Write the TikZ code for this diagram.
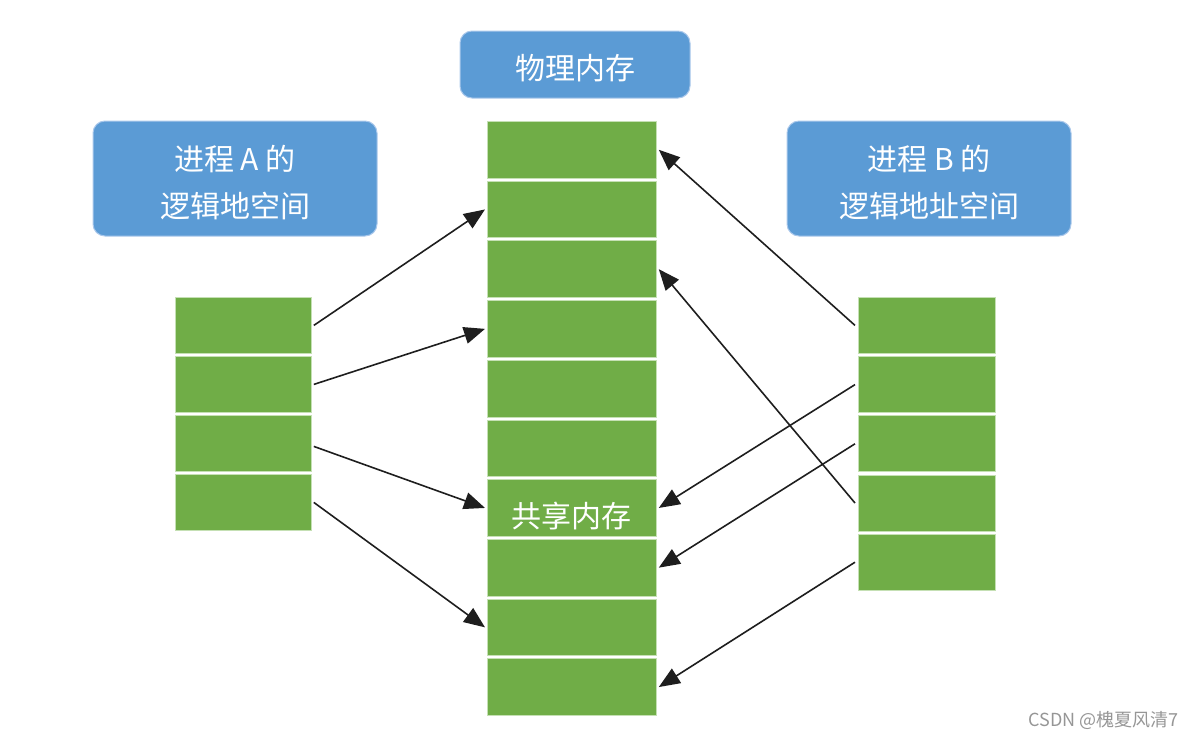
\documentclass[tikz,border=0pt]{standalone}
\usepackage{fontspec}
\newfontfamily\cjk{Noto Sans CJK SC}
\usetikzlibrary{arrows.meta}
\definecolor{boxblue}{RGB}{91,155,213}
\definecolor{cellgreen}{RGB}{112,173,71}
\definecolor{celledge}{RGB}{197,224,180}
\definecolor{boxedge}{RGB}{170,200,235}
\definecolor{arrowcol}{RGB}{30,30,30}
\definecolor{wmgrey}{RGB}{150,150,150}
\begin{document}
\begin{tikzpicture}[x=1pt,y=-1pt,
  titlebox/.style={fill=boxblue,draw=boxedge,line width=1pt,rounded corners=12pt,inner sep=0pt},
  titletext/.style={text=white,font=\cjk\fontsize{30}{47}\selectfont,align=center,inner sep=0pt},
  cell/.style={fill=cellgreen,draw=celledge,line width=0.8pt,inner sep=0pt,anchor=north west},
  celltext/.style={text=white,font=\cjk\fontsize{30}{36}\selectfont},
  arr/.style={draw=arrowcol,line width=1.6pt,-{Triangle[length=21pt,width=17pt]}},
  wmark/.style={font=\cjk\fontsize{18}{20}\selectfont,text=wmgrey,anchor=east}]
\useasboundingbox (0,0) rectangle (1197,740);

% title boxes
\node[titlebox,minimum width=230pt,minimum height=67pt] (phys) at (575,64.5) {};
\node[titletext] (physt) at ([yshift=-4pt]phys.center) {物理内存};
\node[titlebox,minimum width=284pt,minimum height=115pt] (pa) at (235,178.5) {};
\node[titletext] (pat) at ([yshift=-4pt]pa.center) {进程 A 的\\逻辑地空间};
\node[titlebox,minimum width=284pt,minimum height=115pt] (pb) at (929,178.5) {};
\node[titletext] (pbt) at ([yshift=-4pt]pb.center) {进程 B 的\\逻辑地址空间};

% physical memory cells
\foreach \i in {1,...,10}
  \node[cell,minimum width=169pt,minimum height=56.7pt] (m\i) at (487,{121+(\i-1)*59.7}) {};
\node[celltext] (shared) at ([yshift=-8pt]m7.center) {共享内存};

% process A cells
\foreach \i in {1,...,4}
  \node[cell,minimum width=136pt,minimum height=56pt] (a\i) at (175,{297+(\i-1)*59}) {};

% process B cells
\foreach \i in {1,...,5}
  \node[cell,minimum width=137pt,minimum height=56pt] (b\i) at (858,{297+(\i-1)*59.2}) {};

% arrows from A
\draw[arr] ([xshift=2pt]a1.east) -- ([xshift=-2pt]m2.west);
\draw[arr] ([xshift=2pt]a2.east) -- ([xshift=-2pt]m4.west);
\draw[arr] ([xshift=2pt,yshift=-3pt]a3.east) -- ([xshift=-2pt]m7.west);
\draw[arr] ([xshift=2pt]a4.east) -- ([xshift=-2pt]m9.west);

% arrows from B
\draw[arr] ([xshift=-3pt]b1.west) -- ([xshift=2pt]m1.east);
\draw[arr] ([xshift=-3pt]b4.west) -- ([xshift=2pt]m3.east);
\draw[arr] ([xshift=-3pt]b2.west) -- ([xshift=2pt]m7.east);
\draw[arr] ([xshift=-3pt]b3.west) -- ([xshift=2pt]m8.east);
\draw[arr] ([xshift=-3pt]b5.west) -- ([xshift=2pt]m10.east);

% watermark
\node[wmark] (wm) at (1182,720) {CSDN @槐夏风清7};
\end{tikzpicture}
\end{document}
